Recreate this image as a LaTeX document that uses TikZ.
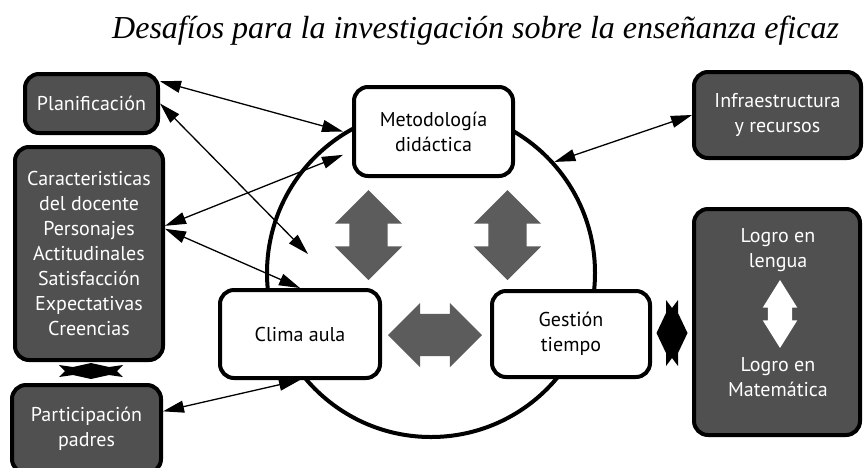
\documentclass[tikz,border=0pt]{standalone}
\usepackage{fontspec}
\setmainfont{Liberation Serif}
\newfontfamily\boxfont{PT Sans}
\usetikzlibrary{shapes.arrows,arrows.meta,positioning}
\definecolor{boxgray}{HTML}{505050}
\definecolor{arrowgray}{HTML}{5C5C5C}

\begin{document}
\begin{tikzpicture}[x=1pt,y=-1pt]
\tikzstyle{whitebox}=[rectangle,rounded corners=14pt,draw=black,line width=4pt,
fill=white,align=center,inner sep=0pt,
font=\boxfont\fontsize{20}{25}\selectfont]
\tikzstyle{darkbox}=[whitebox,fill=boxgray,text=white]
\tikzstyle{boxtext}=[align=center,text=white,font=\boxfont\fontsize{20}{25}\selectfont]
\tikzstyle{link}=[{Triangle[length=21pt,width=12pt]}-{Triangle[length=21pt,width=12pt]},
line width=1.3pt]
\tikzstyle{block}=[double arrow,fill=arrowgray,inner xsep=0pt,
double arrow tip angle=90]

\useasboundingbox (0,0) rectangle (864,467);
\fill[white] (0,0) rectangle (864,467);

\node[anchor=base west,inner sep=0pt,font=\itshape\fontsize{32}{38}\selectfont]
at (112,38) (0) {Desafíos para la investigación sobre la enseñanza eficaz};

\node[circle,draw,line width=4pt,minimum size=328pt] at (431,273) (9) {};

\node[whitebox,minimum width=159pt,minimum height=89pt] at (433.5,131.5) (1) {Metodología\\didáctica};
\node[whitebox,minimum width=160pt,minimum height=88pt,
node distance=202.5pt,below of=1,xshift=-133.5pt] (2) {Clima aula};
\node[whitebox,minimum width=158pt,minimum height=86pt,
node distance=271pt,right of=2] (3) {Gestión\\tiempo};

\node[darkbox,minimum width=133pt,minimum height=59pt] at (91.5,103.5) (4) {Planificación};
\node[darkbox,minimum width=148pt,minimum height=213pt] at (89,253.5) (5)
{Caracteristicas\\del docente\\Personajes\\Actitudinales\\Satisfacción\\Expectativas\\Creencias};
\node[darkbox,minimum width=149pt,minimum height=88pt,
node distance=175.5pt,below of=5,xshift=-2.5pt] (6) {Participación\\padres};
\node[darkbox,minimum width=167pt,minimum height=86pt] at (777.5,115) (7) {Infraestructura\\y recursos};
\node[darkbox,minimum width=166pt,minimum height=226pt] at (777,322) (8) {};
\node[boxtext] at (778,250.5) (8a) {Logro en\\lengua};
\node[boxtext] at (778,377.5) (8b) {Logro en\\Matemática};

% block arrows
\node[block,minimum height=90pt,inner ysep=19pt,double arrow head extend=14.5pt,rotate=90]
at (368.5,235) (a1) {};
\node[block,minimum height=90pt,inner ysep=19pt,double arrow head extend=14.5pt,rotate=90]
at (507.5,235) (a2) {};
\node[block,minimum height=94pt,inner ysep=21pt,double arrow head extend=11pt]
at (435,335) (a3) {};
\node[block,fill=white,minimum height=68pt,inner ysep=12pt,double arrow head extend=5pt,
double arrow tip angle=64,rotate=90] at (780,314) (a4) {};

% black links
\coordinate (3c1) at (672,333);
\coordinate (5c1) at (91,371);
\fill[shift={(3c1)}] (-6,-20) -- (-6,-33) -- (0,-25) -- (6,-33) -- (6,-20) -- (15.5,0)
-- (6,20) -- (6,33) -- (0,25) -- (-6,33) -- (-6,20) -- (-15.5,0) -- cycle;
\fill[shift={(5c1)}] (-18,-4) -- (0,-8) -- (18,-4) -- (32,-6) -- (26,0) -- (32,6)
-- (18,4) -- (0,8) -- (-18,4) -- (-32,6) -- (-26,0) -- (-32,-6) -- cycle;

% thin links
\coordinate (2c1) at (308,254);
\draw[link] (4.18) -- ([xshift=-9pt]1.west);
\draw[link] (4.east) -- (2c1);
\draw[link] (5.20) -- ([xshift=-9pt]1.196);
\draw[link] (5.18) -- (2.north);
\draw[link] (6.13) -- (2.south);
\draw[link] (7.west) -- (9.42);

\end{tikzpicture}
\end{document}
